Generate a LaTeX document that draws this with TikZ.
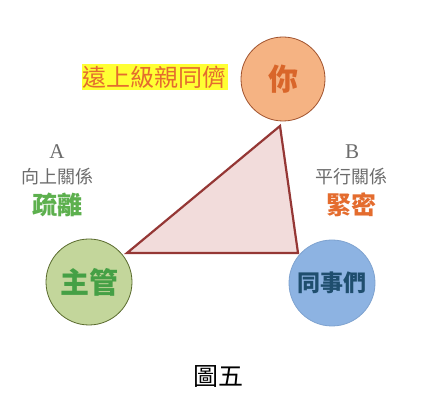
\documentclass[tikz,border=0pt]{standalone}
\usepackage{fontspec}
\setmainfont{Liberation Serif}
\newfontfamily\cjk{Noto Sans CJK TC}
\begin{document}
\begin{tikzpicture}[x=1pt,y=-1pt,
  person/.style={circle,minimum size=84pt,inner sep=0pt,line width=0.8pt,font=\cjk\bfseries},
  lbl/.style={inner sep=0pt,font=\cjk},
  letter/.style={inner sep=0pt,text=gray!85!black,font=\fontsize{21}{23}\selectfont}]
\definecolor{tri}{HTML}{953735}
\definecolor{trifill}{HTML}{F2DCDB}
\definecolor{youfill}{HTML}{F5B383}
\definecolor{youline}{HTML}{A0522D}
\definecolor{youtext}{HTML}{D9662A}
\definecolor{bossfill}{HTML}{C3D69B}
\definecolor{bossline}{HTML}{5A6B2E}
\definecolor{bosstext}{HTML}{45A045}
\definecolor{peerfill}{HTML}{8DB3E2}
\definecolor{peerline}{HTML}{7FA3D0}
\definecolor{peertext}{HTML}{1F4E6E}
\definecolor{hl}{HTML}{FFFF33}
\definecolor{orange1}{HTML}{E46C2E}
\definecolor{green1}{HTML}{5DB04E}
\useasboundingbox (0,0) rectangle (431,419);
\fill[white] (0,0) rectangle (431,419);
% triangle
\coordinate (t1) at (280,126);
\coordinate (t2) at (127,253);
\coordinate (t3) at (298,253);
\filldraw[draw=tri,fill=trifill,line width=2.2pt,line join=miter] (t1) -- (t2) -- (t3) -- cycle;
% circles
\node[person,fill=youfill,draw=youline,text=youtext,font=\cjk\bfseries\fontsize{30}{32}\selectfont] (you) at (283,79) {你};
\node[person,fill=bossfill,draw=bossline,text=bosstext,minimum size=86pt,font=\cjk\bfseries\fontsize{29}{31}\selectfont] (boss) at (89,282) {主管};
\node[person,fill=peerfill,draw=peerline,text=peertext,minimum size=86pt,font=\cjk\bfseries\fontsize{23}{25}\selectfont] (peer) at (332,283) {同事們};
% highlighted label
\node[lbl,fill=hl,text=orange1,inner xsep=1pt,inner ysep=2pt,font=\cjk\fontsize{24}{26}\selectfont] (far) at (154.5,77) {遠上級親同儕};
% A side
\node[letter] (A) at (57,152) {A};
\node[lbl,text=gray!85!black,font=\cjk\fontsize{18}{20}\selectfont] (Arel) at (57,177) {向上關係};
\node[lbl,text=green1,font=\cjk\bfseries\fontsize{25}{27}\selectfont] (Aq) at (57,205) {疏離};
% B side
\node[letter] (B) at (352,152) {B};
\node[lbl,text=gray!85!black,font=\cjk\fontsize{18}{20}\selectfont] (Brel) at (351,177) {平行關係};
\node[lbl,text=orange1,font=\cjk\bfseries\fontsize{25}{27}\selectfont] (Bq) at (351,205) {緊密};
% caption
\node[lbl,text=black,font=\cjk\fontsize{25}{27}\selectfont] (cap) at (218,377) {圖五};
\end{tikzpicture}
\end{document}
